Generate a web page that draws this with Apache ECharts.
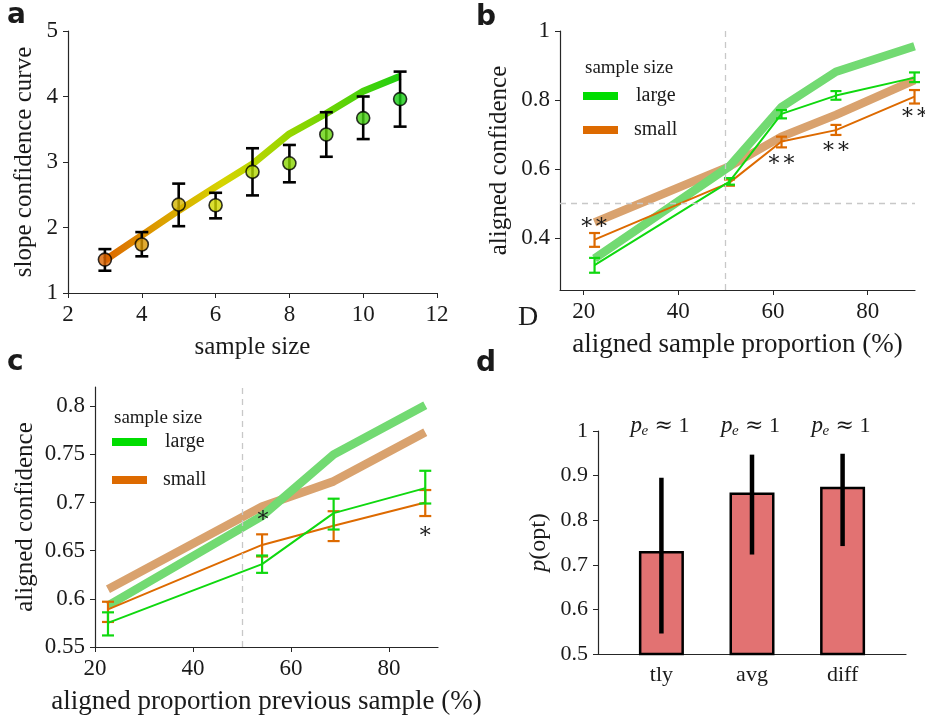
<!DOCTYPE html>
<html>
<head>
<meta charset="utf-8">
<script src="https://cdn.jsdelivr.net/npm/echarts@6/dist/echarts.min.js"></script>
<style>
html,body{margin:0;padding:0;background:#fff;}
#main{width:925px;height:717px;}
</style>
</head>
<body>
<div id="main"></div>
<script>
// ---------- Panel a data ----------
const aX = [3, 4, 5, 6, 7, 8, 9, 10, 11];
const aMean = [1.51, 1.74, 2.35, 2.34, 2.85, 2.98, 3.42, 3.67, 3.96];
const aLo = [1.34, 1.56, 2.02, 2.14, 2.49, 2.69, 3.08, 3.35, 3.54];
const aHi = [1.67, 1.93, 2.67, 2.53, 3.21, 3.26, 3.76, 4.00, 4.38];
const aModel = [1.50, 1.88, 2.26, 2.62, 2.97, 3.43, 3.74, 4.08, 4.31];
const aTicksX = [2, 4, 6, 8, 10, 12];
const aTicksY = [1, 2, 3, 4, 5];

// ---------- Panel b data ----------
const bX = [22.3, 50.8, 61.8, 73.3, 89.9];
const bLargeMean = [0.322, 0.564, 0.760, 0.813, 0.865];
const bLargeLo = [0.300, 0.555, 0.747, 0.801, 0.852];
const bLargeHi = [0.343, 0.574, 0.771, 0.826, 0.880];
const bSmallMean = [0.396, 0.561, 0.680, 0.713, 0.810];
const bSmallLo = [0.375, 0.552, 0.663, 0.699, 0.790];
const bSmallHi = [0.415, 0.570, 0.694, 0.728, 0.829];
const bLargeModel = [0.341, 0.608, 0.780, 0.882, 0.956];
const bSmallModel = [0.446, 0.608, 0.694, 0.757, 0.858];
const bStarX = [22.2, 61.8, 73.3, 90.0];
const bStarY = [0.444, 0.627, 0.662, 0.762];
const bStarText = ['∗∗', '∗∗', '∗∗', '∗∗'];
const bTicksX = [20, 40, 60, 80];
const bTicksY = [0.4, 0.6, 0.8, 1];

// ---------- Panel c data ----------
const cX = [22.65, 54.1, 68.7, 87.4];
const cLargeMean = [0.575, 0.636, 0.689, 0.715];
const cLargeLo = [0.562, 0.627, 0.672, 0.699];
const cLargeHi = [0.586, 0.645, 0.704, 0.733];
const cSmallMean = [0.589, 0.656, 0.676, 0.700];
const cSmallLo = [0.576, 0.644, 0.660, 0.686];
const cSmallHi = [0.597, 0.667, 0.691, 0.713];
const cLargeModel = [0.593, 0.686, 0.750, 0.801];
const cSmallModel = [0.610, 0.696, 0.722, 0.773];
const cStarX = [54.3, 87.4];
const cStarY = [0.686, 0.669];
const cStarText = ['∗', '∗'];
const cTicksX = [20, 40, 60, 80];
const cTicksY = [0.55, 0.6, 0.65, 0.7, 0.75, 0.8];

// ---------- Panel d data ----------
const dCats = ['tly', 'avg', 'diff'];
const dPos = [1, 2, 3];
const dMean = [0.731, 0.862, 0.875];
const dLo = [0.546, 0.723, 0.742];
const dHi = [0.895, 0.947, 0.949];
const dTicksY = [0.5, 0.6, 0.7, 0.8, 0.9, 1];
const dAnnot = ['1', '1', '1'];

// ---------- styles ----------
const SERIF = 'Liberation Serif';
const AX = '#262626';
const TXT = '#1a1a1a';
const GREEN = '#0fd80f';
const ORANGE = '#dd6a00';
const LGREEN = '#72da72';
const TAN = '#d9a26e';
const aMarkerColors = ['#dc6400', '#d99600', '#d5b500', '#d2d800', '#b3d800', '#8ad500', '#66d20c', '#45cf10', '#15cc12'];

const chart = echarts.init(document.getElementById('main'));

function zip(...arrs) { return arrs[0].map((_, i) => arrs.map(a => a[i])); }

function errRender(capHalf, color, lw) {
  return function (params, api) {
    const x = api.value(0), lo = api.value(1), hi = api.value(2);
    const p1 = api.coord([x, lo]), p2 = api.coord([x, hi]);
    const st = { stroke: color, lineWidth: lw };
    const ch = [{ type: 'line', shape: { x1: p1[0], y1: p1[1], x2: p2[0], y2: p2[1] }, style: st }];
    if (capHalf > 0) {
      ch.push({ type: 'line', shape: { x1: p1[0] - capHalf, y1: p1[1], x2: p1[0] + capHalf, y2: p1[1] }, style: st });
      ch.push({ type: 'line', shape: { x1: p2[0] - capHalf, y1: p2[1], x2: p2[0] + capHalf, y2: p2[1] }, style: st });
    }
    return { type: 'group', children: ch };
  };
}

function valAxis(gi, min, max, ticks, nameSize, tickSize, extra) {
  return Object.assign({
    type: 'value', gridIndex: gi, min: min, max: max,
    axisLine: { show: true, onZero: false, lineStyle: { color: AX, width: 1.2 } },
    axisTick: { show: true, inside: false, length: 5, customValues: ticks, lineStyle: { color: AX } },
    axisLabel: { customValues: ticks, color: TXT, fontFamily: SERIF, fontSize: tickSize, margin: 10 },
    splitLine: { show: false },
    nameTextStyle: { color: TXT, fontFamily: SERIF, fontSize: nameSize },
    nameLocation: 'middle'
  }, extra || {});
}

const grids = [
  { left: 68, top: 31, width: 369, height: 262 },
  { left: 560, top: 31, width: 355, height: 259 },
  { left: 95, top: 387, width: 343, height: 260 },
  { left: 598, top: 431, width: 308, height: 223 }
].map(g => Object.assign({ containLabel: false, outerBoundsMode: 'none' }, g));

const xAxes = [
  valAxis(0, 2, 12, aTicksX, 25, 23, { name: 'sample size', nameGap: 42 }),
  valAxis(1, 15, 90, bTicksX, 27, 23, { name: 'aligned sample proportion (%)', nameGap: 41 }),
  valAxis(2, 20, 90, cTicksX, 27, 23, { name: 'aligned proportion previous sample (%)', nameGap: 41 }),
  valAxis(3, 0.3, 3.7, dPos, 21, 21, {
    axisTick: { show: false },
    axisLabel: { customValues: dPos, color: TXT, fontFamily: SERIF, fontSize: 22, margin: 10,
      formatter: v => dCats[dPos.indexOf(Math.round(v))] || '' }
  })
];

const yAxes = [
  valAxis(0, 1, 5, aTicksY, 25, 23, { name: 'slope confidence curve', nameGap: 31 }),
  valAxis(1, 0.25, 1, bTicksY, 25, 23, { name: 'aligned confidence', nameGap: 48 }),
  valAxis(2, 0.55, 0.82, cTicksY, 25, 23, { name: 'aligned confidence', nameGap: 57 }),
  valAxis(3, 0.5, 1, dTicksY, 24, 22, {
    name: '{i|p}(opt)', nameGap: 47,
    nameTextStyle: { color: TXT, fontFamily: SERIF, fontSize: 24,
      rich: { i: { fontStyle: 'italic', fontFamily: SERIF, fontSize: 24, color: TXT } } }
  })
];

const series = [
  // ---- a ----
  {
    type: 'line', xAxisIndex: 0, yAxisIndex: 0, data: zip(aX, aModel), showSymbol: false, symbol: 'none',
    lineStyle: {
      width: 7, cap: 'butt',
      color: new echarts.graphic.LinearGradient(0, 0, 1, 0, [
        { offset: 0, color: '#dd6400' }, { offset: 0.2, color: '#dca000' },
        { offset: 0.4, color: '#d6d400' }, { offset: 0.65, color: '#8ed600' }, { offset: 1, color: '#1ccf10' }])
    },
    z: 1, silent: true
  },
  {
    type: 'custom', xAxisIndex: 0, yAxisIndex: 0, data: zip(aX, aLo, aHi),
    renderItem: errRender(6.5, '#000', 2.6), encode: { x: 0, y: [1, 2] }, z: 2, silent: true
  },
  {
    type: 'scatter', xAxisIndex: 0, yAxisIndex: 0, symbolSize: 13,
    data: aX.map((x, i) => ({ value: [x, aMean[i]], itemStyle: { color: aMarkerColors[i] } })),
    itemStyle: { borderColor: '#000', borderWidth: 1.6 }, z: 3, silent: true
  },
  // ---- b ----
  { type: 'line', xAxisIndex: 1, yAxisIndex: 1, data: zip(bX, bSmallModel), symbol: 'none', lineStyle: { width: 8.5, color: TAN }, z: 1, silent: true },
  { type: 'line', xAxisIndex: 1, yAxisIndex: 1, data: zip(bX, bLargeModel), symbol: 'none', lineStyle: { width: 8.5, color: LGREEN }, z: 1, silent: true },
  { type: 'line', xAxisIndex: 1, yAxisIndex: 1, data: zip(bX, bSmallMean), symbol: 'none', lineStyle: { width: 2, color: ORANGE }, z: 2, silent: true },
  { type: 'custom', xAxisIndex: 1, yAxisIndex: 1, data: zip(bX, bSmallLo, bSmallHi), renderItem: errRender(5.5, ORANGE, 2.2), encode: { x: 0, y: [1, 2] }, z: 2, silent: true },
  { type: 'line', xAxisIndex: 1, yAxisIndex: 1, data: zip(bX, bLargeMean), symbol: 'none', lineStyle: { width: 2, color: GREEN }, z: 3, silent: true },
  { type: 'custom', xAxisIndex: 1, yAxisIndex: 1, data: zip(bX, bLargeLo, bLargeHi), renderItem: errRender(5.5, GREEN, 2.2), encode: { x: 0, y: [1, 2] }, z: 3, silent: true },
  { type: 'line', xAxisIndex: 1, yAxisIndex: 1, data: [], silent: true,
    markLine: { symbol: 'none', silent: true, label: { show: false }, lineStyle: { type: [6, 5], color: '#c8c8c8', width: 1.3 },
      data: [{ xAxis: 50 }, { yAxis: 0.5 }] } },
  // ---- c ----
  { type: 'line', xAxisIndex: 2, yAxisIndex: 2, data: zip(cX, cSmallModel), symbol: 'none', lineStyle: { width: 8.5, color: TAN }, z: 1, silent: true },
  { type: 'line', xAxisIndex: 2, yAxisIndex: 2, data: zip(cX, cLargeModel), symbol: 'none', lineStyle: { width: 8.5, color: LGREEN }, z: 1, silent: true },
  { type: 'line', xAxisIndex: 2, yAxisIndex: 2, data: zip(cX, cSmallMean), symbol: 'none', lineStyle: { width: 2, color: ORANGE }, z: 2, silent: true },
  { type: 'custom', xAxisIndex: 2, yAxisIndex: 2, data: zip(cX, cSmallLo, cSmallHi), renderItem: errRender(6, ORANGE, 2.2), encode: { x: 0, y: [1, 2] }, z: 2, silent: true },
  { type: 'line', xAxisIndex: 2, yAxisIndex: 2, data: zip(cX, cLargeMean), symbol: 'none', lineStyle: { width: 2, color: GREEN }, z: 3, silent: true },
  { type: 'custom', xAxisIndex: 2, yAxisIndex: 2, data: zip(cX, cLargeLo, cLargeHi), renderItem: errRender(6, GREEN, 2.2), encode: { x: 0, y: [1, 2] }, z: 3, silent: true },
  { type: 'line', xAxisIndex: 2, yAxisIndex: 2, data: [], silent: true,
    markLine: { symbol: 'none', silent: true, label: { show: false }, lineStyle: { type: [6, 5], color: '#c8c8c8', width: 1.3 },
      data: [{ xAxis: 50 }] } },
  // ---- d ----
  { type: 'bar', xAxisIndex: 3, yAxisIndex: 3, data: zip(dPos, dMean), barWidth: 45,
    itemStyle: { color: '#e27272', borderColor: '#000', borderWidth: 2.5 }, z: 1, silent: true },
  { type: 'custom', xAxisIndex: 3, yAxisIndex: 3, data: zip(dPos, dLo, dHi), renderItem: errRender(0, '#000', 4.5), encode: { x: 0, y: [1, 2] }, z: 3, silent: true }
];

chart.setOption({
  animation: false,
  backgroundColor: '#fff',
  grid: grids,
  xAxis: xAxes,
  yAxis: yAxes,
  series: series
});

// ---------- annotations placed through the axes ----------
const g = [];
function txt(x, y, text, font, extra) {
  g.push({ type: 'text', x: x, y: y, silent: true, z: 100,
    style: Object.assign({ text: text, font: font, fill: TXT, textAlign: 'left', textVerticalAlign: 'middle' }, extra || {}) });
}
// panel letters
txt(7, 16, 'a', 'bold 28px "DejaVu Sans"');
txt(476, 18, 'b', 'bold 28px "DejaVu Sans"');
txt(7, 363, 'c', 'bold 28px "DejaVu Sans"');
txt(476, 364, 'd', 'bold 28px "DejaVu Sans"');
txt(518, 318, 'D', '28px "Liberation Serif"');

// stars
bStarX.forEach((x, i) => {
  const p = chart.convertToPixel({ xAxisIndex: 1, yAxisIndex: 1 }, [x, bStarY[i]]);
  txt(p[0], p[1], bStarText[i], '22px "DejaVu Serif"', { textAlign: 'center' });
});
cStarX.forEach((x, i) => {
  const p = chart.convertToPixel({ xAxisIndex: 2, yAxisIndex: 2 }, [x, cStarY[i]]);
  txt(p[0], p[1], cStarText[i], '22px "DejaVu Serif"', { textAlign: 'center' });
});

// legends
function legend(x0, yTitle, yLarge, ySmall) {
  txt(x0, yTitle, 'sample size', '19px "Liberation Serif"');
  g.push({ type: 'rect', silent: true, z: 100, shape: { x: x0 - 2, y: yLarge - 4, width: 35, height: 8 }, style: { fill: '#00dd00' } });
  g.push({ type: 'rect', silent: true, z: 100, shape: { x: x0 - 2, y: ySmall - 4, width: 35, height: 8 }, style: { fill: ORANGE } });
  txt(x0 + 51, yLarge, 'large', '20px "Liberation Serif"');
  txt(x0 + 49, ySmall, 'small', '20px "Liberation Serif"');
}
legend(585, 68, 96, 130);
legend(114, 418, 442, 480);

// p_e annotations
dPos.forEach((x, i) => {
  const p = chart.convertToPixel({ xAxisIndex: 3, yAxisIndex: 3 }, [x, 1]);
  const cx = p[0], y = p[1] - 5;
  const sx = cx - 31;
  txt(sx, y, 'p', 'italic 23px "Liberation Serif"');
  txt(sx + 11, y + 5, 'e', 'italic 15px "Liberation Serif"');
  txt(sx + 24, y, '≈', '22px "DejaVu Serif"');
  txt(sx + 48, y, dAnnot[i], '22px "Liberation Serif"');
});

chart.setOption({ graphic: g });
</script>
</body>
</html>
